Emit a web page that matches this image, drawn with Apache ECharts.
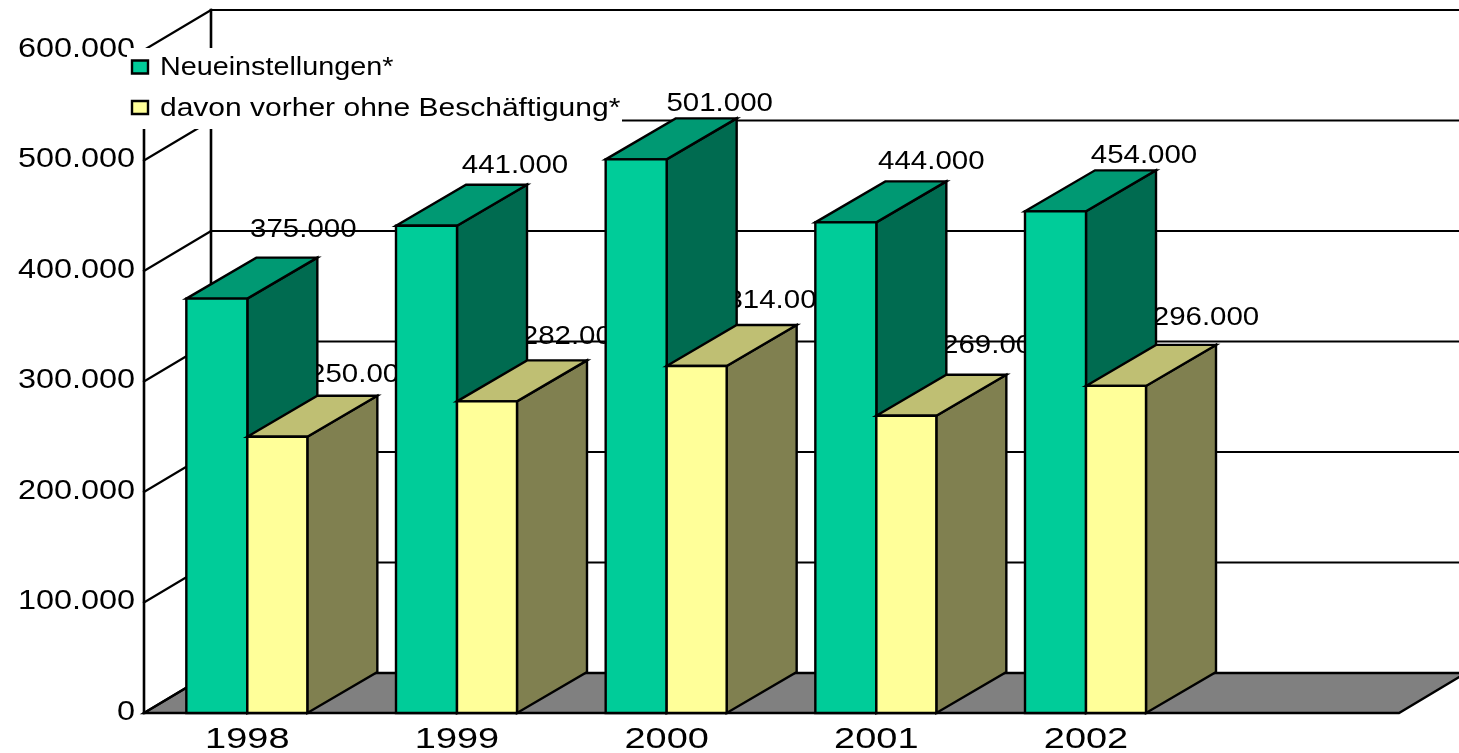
<!DOCTYPE html>
<html><head><meta charset="utf-8">
<style>html,body{margin:0;padding:0;background:#fff;overflow:hidden}#c{width:1459px;height:753px}</style>
<script src="https://cdn.jsdelivr.net/npm/echarts@6/dist/echarts.min.js"></script>
</head><body><div id="c"></div>
<script>
const categories = ['1998','1999','2000','2001','2002',''];
const neueinstellungen = [375000,441000,501000,444000,454000];
const ohneBeschaeftigung = [250000,282000,314000,269000,296000];
const yTicks = [0,100000,200000,300000,400000,500000,600000];
const yTickLabels = ['0','100.000','200.000','300.000','400.000','500.000','600.000'];
const seriesNames = ['Neueinstellungen*','davon vorher ohne Beschäftigung*'];

// layout constants
const FONT='"Liberation Sans",Arial,sans-serif';
const DX=67, DY=-40, BARD=[70,-41];
const BARW=61;
const greenShift={x:[56,58,53,55,58],y:[-69,-60,-55,-60,-55]};
const yellowShift={x:[115,118,113,119,120],y:[-62,-64,-65,-70,-68]};
const fmt=v=>String(v).replace(/\B(?=(\d{3})+$)/g,'.');
const poly=(pts,fill,lw)=>({type:'polygon',shape:{points:pts},style:{fill:fill,stroke:'#000',lineWidth:lw===undefined?2.4:lw,lineJoin:'miter'}});
const line=(a,b,lw)=>({type:'line',shape:{x1:a[0],y1:a[1],x2:b[0],y2:b[1]},style:{stroke:'#000',lineWidth:lw||2.2,lineCap:'square'}});
const txt=(s,x,y,size,sx,align)=>({type:'text',x:x,y:y,scaleX:sx,style:{text:s,fontSize:size,fontFamily:FONT,fill:'#000',align:align||'center',verticalAlign:'middle'}});

function renderWalls(params,api){
  const cs=params.coordSys;
  const L=cs.x+1.5, R=cs.x+cs.width-1.5;
  const kids=[];
  const y0=api.coord([0,0])[1];
  kids.push(poly([[L,y0],[L+DX,y0+DY],[R+DX,y0+DY],[R,y0]],'#808080',2.4));
  yTicks.forEach(t=>{
    const y=api.coord([0,t])[1];
    if(t>0) kids.push(line([L+DX,y+DY],[R+DX,y+DY]));
    kids.push(line([L,y],[L+DX,y+DY]));
  });
  const top=api.coord([0,yTicks[yTicks.length-1]])[1];
  kids.push(line([L,y0],[L,top],2.6));
  kids.push(line([L+DX,y0+DY],[L+DX,top+DY],2.6));
  return {type:'group',children:kids};
}
function renderAxisText(params,api){
  const kids=[];
  yTicks.forEach((t,i)=>{
    const y=api.coord([0,t])[1];
    kids.push(txt(yTickLabels[i],135,y-0.5,27,1.2,'right'));
  });
  categories.forEach((c,i)=>{
    if(!c) return;
    const p=api.coord([i,0]);
    kids.push(txt(c,p[0],739.5,30,1.265));
  });
  return {type:'group',children:kids};
}
function bar(params,api,left,fills,width){
  const c=api.coord([api.value(0),api.value(1)]);
  const b=api.coord([api.value(0),0]);
  const x0=c[0]+left, x1=x0+width, yt=c[1], yb=b[1];
  const [dx,dy]=BARD;
  return {type:'group',children:[
    poly([[x1,yt],[x1+dx,yt+dy],[x1+dx,yb+dy],[x1,yb]],fills[2]),
    poly([[x0,yt],[x0+dx,yt+dy],[x1+dx,yt+dy],[x1,yt]],fills[1]),
    poly([[x0,yt],[x1,yt],[x1,yb],[x0,yb]],fills[0])
  ]};
}
const renderLabels=(vals,shift)=>(params,api)=>{
  const i=api.value(0);
  const c=api.coord([i,api.value(1)]);
  return txt(fmt(vals[i]),c[0]+shift.x[i],c[1]+shift.y[i],25.5,1.155);
};
const toData=a=>a.map((v,i)=>[i,v]);

const chart=echarts.init(document.getElementById('c'),null,{renderer:'canvas'});
chart.setOption({
  animation:false,
  backgroundColor:'#fff',
  grid:{left:142.5,width:1258,top:50,height:663,containLabel:false},
  xAxis:{type:'category',data:categories,axisLine:{show:false},axisTick:{show:false},axisLabel:{show:false},splitLine:{show:false}},
  yAxis:{type:'value',min:0,max:600000,interval:100000,axisLine:{show:false},axisTick:{show:false},axisLabel:{show:false},splitLine:{show:false}},
  tooltip:{show:false},
  series:[
    {type:'custom',name:'walls',z:1,silent:true,clip:false,data:[[0,0]],renderItem:renderWalls},
    {type:'custom',name:'axisText',z:2,silent:true,clip:false,data:[[0,0]],renderItem:renderAxisText},
    {type:'custom',name:'labelsA',z:3,silent:true,clip:false,data:toData(neueinstellungen),renderItem:renderLabels(neueinstellungen,greenShift)},
    {type:'custom',name:'labelsB',z:3,silent:true,clip:false,data:toData(ohneBeschaeftigung),renderItem:renderLabels(ohneBeschaeftigung,yellowShift)},
    {type:'custom',name:seriesNames[0],z:4,clip:false,data:toData(neueinstellungen),
      renderItem:(p,a)=>bar(p,a,-BARW,['#00CC99','#009973','#006B50'],BARW)},
    {type:'custom',name:seriesNames[1],z:5,clip:false,data:toData(ohneBeschaeftigung),
      renderItem:(p,a)=>bar(p,a,0,['#FFFF99','#BFBF73','#808050'],BARW-1)}
  ],
  graphic:[
    {type:'rect',z:20,shape:{x:127,y:48,width:495,height:81},style:{fill:'#fff'}},
    {type:'rect',z:21,shape:{x:132,y:60.5,width:16,height:13},style:{fill:'#00CC99',stroke:'#000',lineWidth:2.4}},
    {type:'rect',z:21,shape:{x:132,y:101,width:16,height:13},style:{fill:'#FFFF99',stroke:'#000',lineWidth:2.4}},
    {type:'text',z:21,x:160,y:68.5,scaleX:1.15,style:{text:seriesNames[0],fontSize:25,fontFamily:FONT,fill:'#000',align:'left',verticalAlign:'middle'}},
    {type:'text',z:21,x:160,y:109.5,scaleX:1.2,style:{text:seriesNames[1],fontSize:25,fontFamily:FONT,fill:'#000',align:'left',verticalAlign:'middle'}}
  ]
});
</script></body></html>
